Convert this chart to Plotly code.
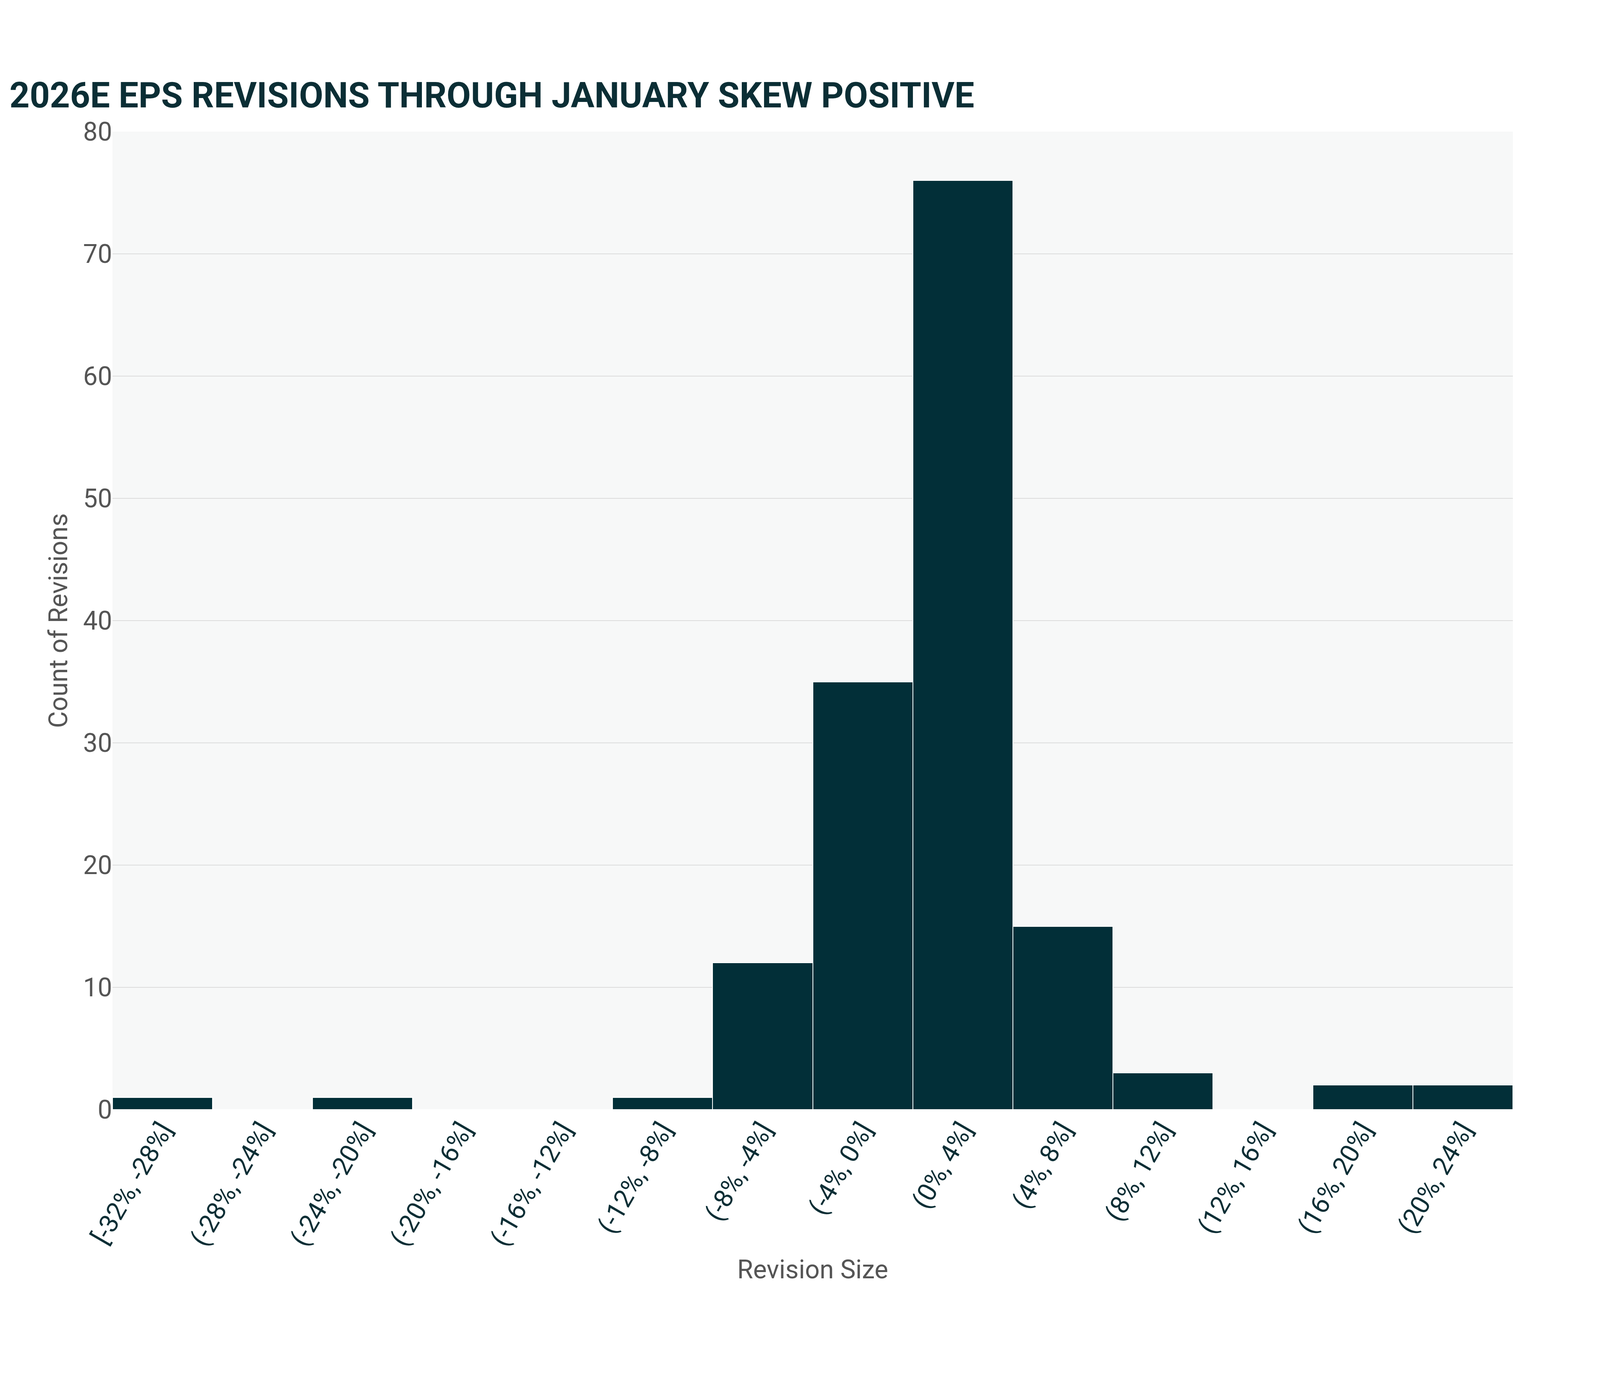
import plotly.graph_objects as go

bins = ["[-32%, -28%]", "(-28%, -24%]", "(-24%, -20%]", "(-20%, -16%]", "(-16%, -12%]",
        "(-12%, -8%]", "(-8%, -4%]", "(-4%, 0%]", "(0%, 4%]", "(4%, 8%]",
        "(8%, 12%]", "(12%, 16%]", "(16%, 20%]", "(20%, 24%]"]
counts = [1, 0, 1, 0, 0, 1, 12, 35, 76, 15, 3, 0, 2, 2]
yticks = [0, 10, 20, 30, 40, 50, 60, 70, 80]

# page is shown at a device scale, so size in CSS px ~0.6 of the target pixels
s = 0.6

fig = go.Figure(go.Bar(
    x=bins, y=counts,
    marker=dict(color="#022f38", line=dict(color="white", width=2)),
))

fig.update_layout(
    autosize=True,
    paper_bgcolor="white", plot_bgcolor="#f7f8f8",
    font=dict(family="Roboto", color="#555555"),
    margin=dict(l=466 * s, r=358 * s, t=548 * s, b=1222 * s),
    bargap=0,
    showlegend=False,
    title=dict(text="<b>2026E EPS REVISIONS THROUGH JANUARY SKEW POSITIVE</b>",
               x=0.004, xanchor="left", y=0.934, yanchor="middle",
               font=dict(size=150 * s, color="#0b2e35", family="Roboto")),
    xaxis=dict(title=dict(text="Revision Size", font=dict(size=110 * s, color="#555555"), standoff=40 * s),
               tickangle=-60, tickfont=dict(size=110 * s, color="#0b2e35"),
               showgrid=False, ticks=""),
    yaxis=dict(title=dict(text="Count of Revisions", font=dict(size=110 * s, color="#555555"), standoff=30 * s),
               range=[0, 80], tickvals=yticks, tickfont=dict(size=110 * s, color="#555555"),
               gridcolor="#dcdcdc", gridwidth=2, zeroline=False, ticks=""),
    shapes=[dict(type="rect", xref="paper", yref="paper",
                 x0=-466 / 5843, x1=-324 / 5843, y0=1 + 468 / 1812, y1=1 + 510 / 1812,
                 fillcolor="#f26522", line=dict(width=0))],
    annotations=[dict(text="Source: Bloomberg as of January 30, 2026.", xref="paper", yref="paper",
                      x=-444 / 5843, y=-(3538 - 2360) / 1812, xanchor="left", yanchor="middle",
                      showarrow=False, font=dict(size=110 * s, color="#555555"))],
)

fig.write_html("out.html")
